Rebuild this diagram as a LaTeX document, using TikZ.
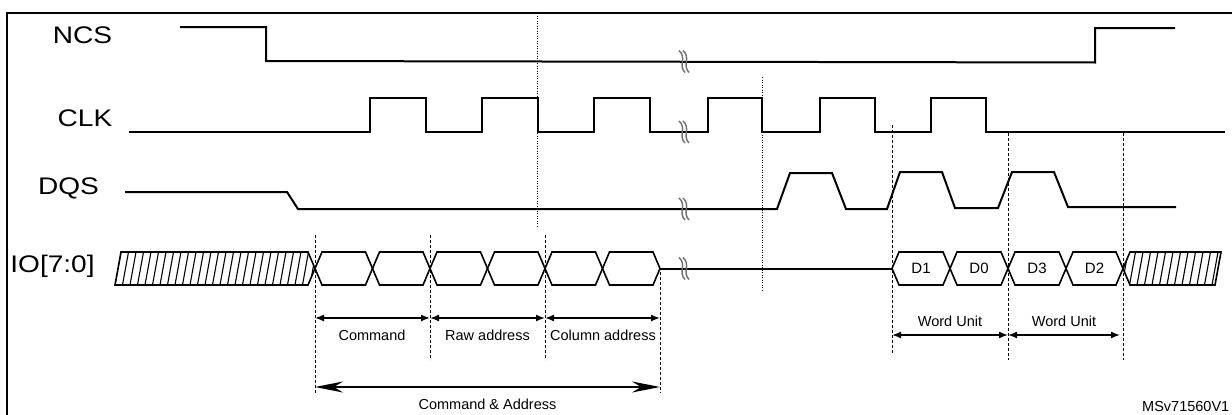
\documentclass[tikz,border=0pt]{standalone}
\usepackage{fontspec}
\setmainfont{Liberation Sans}
\usetikzlibrary{arrows.meta}

\begin{document}
\begin{tikzpicture}[x=1pt,y=-1pt,
		sig/.style={line width=2pt},
		bus/.style={line width=1.6pt},
		hatchline/.style={line width=1.1pt},
		guide/.style={line width=0.9pt,dash pattern=on 3pt off 2pt},
		dotguide/.style={line width=0.9pt,dash pattern=on 1pt off 1.5pt},
		brk/.style={black!55,line width=1.5pt},
		dim/.style={line width=1.4pt,{Latex[length=9pt,width=7pt]}-{Latex[length=9pt,width=7pt]}},
		bigdim/.style={line width=1.4pt,{Stealth[length=28pt,width=11pt]}-{Stealth[length=28pt,width=11pt]}},
		signame/.style={font=\fontsize{24}{28}\selectfont,xscale=1.17,inner sep=0pt},
		lbl/.style={font=\fontsize{14.5}{17}\selectfont,inner sep=0pt}]
		\useasboundingbox (0,0) rectangle (1232,415);
		\draw[line width=2pt] (7,440) -- (7,12.5) -- (1250,12.5);
		% signal names
		\node[signame] (ncs) at (82.5,35.5) {NCS};
		\node[signame] (clk) at (85,118.5) {CLK};
		\node[signame] (dqs) at (68.5,188) {DQS};
		\node[signame] (io) at (52.5,266) {IO[7:0]};
		% NCS
		\draw[sig] (180,27) -- (266,27) -- (266,61) -- (1095,62.5) -- (1095,28) -- (1175,28);
		% CLK
		\draw[sig] (129,132) -- (370,132) -- (370,98) -- (426,98) -- (426,132) -- (482,132) -- (482,98) -- (538,98) -- (538,132)
			-- (594,132) -- (594,98) -- (650,98) -- (650,132) -- (708,132) -- (708,98) -- (762,98) -- (762,132)
			-- (820,132) -- (820,98) -- (875,98) -- (875,132) -- (931,132) -- (931,98) -- (986,98) -- (986,132) -- (1225,132);
		% DQS
		\draw[sig] (125,192) -- (287,192) -- (298,209) -- (777,209) -- (790,173) -- (832,173) -- (846,209) -- (887,209)
			-- (900,172) -- (942,172) -- (955,208) -- (998,208) -- (1012,172) -- (1054,172) -- (1068,207) -- (1176,207);
		% IO bus
		\begin{scope}
			\clip (115,285) -- (121,252) -- (308,252) -- (315,268.5) -- (308,285) -- cycle;
			\foreach \x in {115,122.5,...,322} \draw[hatchline] (\x,285) -- ({\x+6},252);
		\end{scope}
		\draw[bus] (115,285) -- (121,252) -- (308,252) -- (315,268.5) -- (308,285) -- cycle;
		\foreach \a/\b in {315/372.5,372.5/430,430/487.5,487.5/545,545/602.5,602.5/660}
			\draw[bus] (\a,268.5) -- ({\a+7},252) -- ({\b-7},252) -- (\b,268.5) -- ({\b-7},285) -- ({\a+7},285) -- cycle;
		\draw[sig] (660,268.5) -- (892,268.5);
		\foreach \a/\b/\t in {892/950/D1,950/1008/D0,1008/1066/D3,1066/1123/D2}{
			\draw[bus] (\a,268.5) -- ({\a+7},252) -- ({\b-7},252) -- (\b,268.5) -- ({\b-7},285) -- ({\a+7},285) -- cycle;
			\node[lbl,font=\fontsize{15}{18}\selectfont] (\t) at ({(\a+\b)/2},268.5) {\t};
		}
		\begin{scope}
			\clip (1123,268.5) -- (1130,252) -- (1221,252) -- (1215,285) -- (1130,285) -- cycle;
			\foreach \x in {1122,1129.5,...,1222} \draw[hatchline] (\x,285) -- ({\x+6},252);
		\end{scope}
		\draw[bus] (1123,268.5) -- (1130,252) -- (1221,252) -- (1215,285) -- (1130,285) -- cycle;
		% break marks
		\foreach \y in {61.5,132,209,268.5}{
			\draw[brk] (679,{\y-11}) .. controls (687,{\y-4}) and (678,{\y+4}) .. (685,{\y+11});
			\draw[brk] (683,{\y-11}) .. controls (691,{\y-4}) and (682,{\y+4}) .. (689,{\y+11});
		}
		% guides
		\draw[dotguide] (537,13) -- (537,228);
		\draw[dotguide] (762,77) -- (762,290);
		\draw[guide] (315,235) -- (315,393);
		\draw[guide] (430,235) -- (430,360);
		\draw[guide] (545,235) -- (545,360);
		\draw[guide] (660,272) -- (660,393);
		\draw[guide] (892,125) -- (892,353);
		\draw[guide] (1008,133) -- (1008,360);
		\draw[guide] (1123,133) -- (1123,360);
		% dimensions
		\coordinate (c0) at (315,318);
		\coordinate (c1) at (430,318);
		\coordinate (c2) at (545,318);
		\coordinate (c3) at (660,318);
		\draw[dim] (c0) -- (c1);
		\draw[dim] (c1) -- (c2);
		\draw[dim] (c2) -- (c3);
		\node[lbl] (cmd) at (372,335) {Command};
		\node[lbl] (raw) at (487.5,335) {Raw address};
		\node[lbl] (col) at (603,335) {Column address};
		\coordinate (ca0) at (315,387);
		\coordinate (ca1) at (660,387);
		\draw[bigdim] (ca0) -- (ca1);
		\node[lbl] (cmdaddr) at (487.5,404) {Command \& Address};
		\coordinate (w0) at (892,335);
		\coordinate (w1) at (1008,335);
		\coordinate (w2) at (1120,335);
		\draw[dim] (w0) -- (w1);
		\draw[dim] (w1) -- (w2);
		\node[lbl] (wu1) at (950,321) {Word Unit};
		\node[lbl] (wu2) at (1064,321) {Word Unit};
		\node[lbl,anchor=west] (ref) at (1142,407) {MSv71560V1};
	\end{tikzpicture}
\end{document}
